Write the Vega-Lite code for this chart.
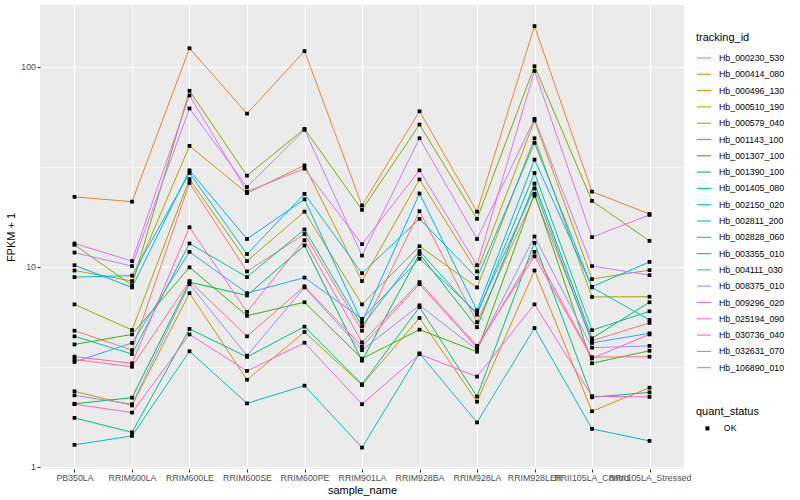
{
"$schema": "https://vega.github.io/schema/vega-lite/v6.json",
"width": 644, "height": 464,
"autosize": {"type": "none"},
"padding": {"left": 40, "top": 5, "right": 116, "bottom": 31},
"background": "white",
"config": {
  "font": "Liberation Sans",
  "view": {"fill": "#EBEBEB", "stroke": null},
  "axis": {"domain": false, "grid": true, "gridColor": "#FFFFFF", "gridWidth": 1.1, "tickColor": "#333333", "tickSize": 3, "tickWidth": 1.1, "labelColor": "#4D4D4D", "labelFontSize": 8.8, "labelPadding": 1.5, "titleFontSize": 11, "titleFontWeight": "normal", "titleColor": "#000000"}
},
"data": {"values": [
{"tracking_id":"Hb_000230_530","sample_name":"PB350LA","fpkm1":4.8,"quant_status":"OK"},
{"tracking_id":"Hb_000230_530","sample_name":"RRIM600LA","fpkm1":3.84,"quant_status":"OK"},
{"tracking_id":"Hb_000230_530","sample_name":"RRIM600LE","fpkm1":26.3,"quant_status":"OK"},
{"tracking_id":"Hb_000230_530","sample_name":"RRIM600SE","fpkm1":9.5,"quant_status":"OK"},
{"tracking_id":"Hb_000230_530","sample_name":"RRIM600PE","fpkm1":14.6,"quant_status":"OK"},
{"tracking_id":"Hb_000230_530","sample_name":"RRIM901LA","fpkm1":4.8,"quant_status":"OK"},
{"tracking_id":"Hb_000230_530","sample_name":"RRIM928BA","fpkm1":19,"quant_status":"OK"},
{"tracking_id":"Hb_000230_530","sample_name":"RRIM928LA","fpkm1":5.3,"quant_status":"OK"},
{"tracking_id":"Hb_000230_530","sample_name":"RRIM928LER","fpkm1":22.7,"quant_status":"OK"},
{"tracking_id":"Hb_000230_530","sample_name":"RRII105LA_Control","fpkm1":4.28,"quant_status":"OK"},
{"tracking_id":"Hb_000230_530","sample_name":"RRII105LA_Stressed","fpkm1":5.25,"quant_status":"OK"},
{"tracking_id":"Hb_000414_080","sample_name":"PB350LA","fpkm1":22.4,"quant_status":"OK"},
{"tracking_id":"Hb_000414_080","sample_name":"RRIM600LA","fpkm1":21.2,"quant_status":"OK"},
{"tracking_id":"Hb_000414_080","sample_name":"RRIM600LE","fpkm1":124,"quant_status":"OK"},
{"tracking_id":"Hb_000414_080","sample_name":"RRIM600SE","fpkm1":58.4,"quant_status":"OK"},
{"tracking_id":"Hb_000414_080","sample_name":"RRIM600PE","fpkm1":120,"quant_status":"OK"},
{"tracking_id":"Hb_000414_080","sample_name":"RRIM901LA","fpkm1":20.3,"quant_status":"OK"},
{"tracking_id":"Hb_000414_080","sample_name":"RRIM928BA","fpkm1":60,"quant_status":"OK"},
{"tracking_id":"Hb_000414_080","sample_name":"RRIM928LA","fpkm1":18.9,"quant_status":"OK"},
{"tracking_id":"Hb_000414_080","sample_name":"RRIM928LER","fpkm1":160,"quant_status":"OK"},
{"tracking_id":"Hb_000414_080","sample_name":"RRII105LA_Control","fpkm1":23.8,"quant_status":"OK"},
{"tracking_id":"Hb_000414_080","sample_name":"RRII105LA_Stressed","fpkm1":18.4,"quant_status":"OK"},
{"tracking_id":"Hb_000496_130","sample_name":"PB350LA","fpkm1":2.39,"quant_status":"OK"},
{"tracking_id":"Hb_000496_130","sample_name":"RRIM600LA","fpkm1":2.03,"quant_status":"OK"},
{"tracking_id":"Hb_000496_130","sample_name":"RRIM600LE","fpkm1":7.4,"quant_status":"OK"},
{"tracking_id":"Hb_000496_130","sample_name":"RRIM600SE","fpkm1":2.73,"quant_status":"OK"},
{"tracking_id":"Hb_000496_130","sample_name":"RRIM600PE","fpkm1":4.73,"quant_status":"OK"},
{"tracking_id":"Hb_000496_130","sample_name":"RRIM901LA","fpkm1":2.57,"quant_status":"OK"},
{"tracking_id":"Hb_000496_130","sample_name":"RRIM928BA","fpkm1":5.56,"quant_status":"OK"},
{"tracking_id":"Hb_000496_130","sample_name":"RRIM928LA","fpkm1":2.12,"quant_status":"OK"},
{"tracking_id":"Hb_000496_130","sample_name":"RRIM928LER","fpkm1":9.6,"quant_status":"OK"},
{"tracking_id":"Hb_000496_130","sample_name":"RRII105LA_Control","fpkm1":1.9,"quant_status":"OK"},
{"tracking_id":"Hb_000496_130","sample_name":"RRII105LA_Stressed","fpkm1":2.49,"quant_status":"OK"},
{"tracking_id":"Hb_000510_190","sample_name":"PB350LA","fpkm1":9.6,"quant_status":"OK"},
{"tracking_id":"Hb_000510_190","sample_name":"RRIM600LA","fpkm1":8.5,"quant_status":"OK"},
{"tracking_id":"Hb_000510_190","sample_name":"RRIM600LE","fpkm1":40.3,"quant_status":"OK"},
{"tracking_id":"Hb_000510_190","sample_name":"RRIM600SE","fpkm1":23.4,"quant_status":"OK"},
{"tracking_id":"Hb_000510_190","sample_name":"RRIM600PE","fpkm1":32.2,"quant_status":"OK"},
{"tracking_id":"Hb_000510_190","sample_name":"RRIM901LA","fpkm1":8.5,"quant_status":"OK"},
{"tracking_id":"Hb_000510_190","sample_name":"RRIM928BA","fpkm1":27.4,"quant_status":"OK"},
{"tracking_id":"Hb_000510_190","sample_name":"RRIM928LA","fpkm1":9.5,"quant_status":"OK"},
{"tracking_id":"Hb_000510_190","sample_name":"RRIM928LER","fpkm1":54,"quant_status":"OK"},
{"tracking_id":"Hb_000510_190","sample_name":"RRII105LA_Control","fpkm1":8.7,"quant_status":"OK"},
{"tracking_id":"Hb_000510_190","sample_name":"RRII105LA_Stressed","fpkm1":9.64,"quant_status":"OK"},
{"tracking_id":"Hb_000579_040","sample_name":"PB350LA","fpkm1":6.5,"quant_status":"OK"},
{"tracking_id":"Hb_000579_040","sample_name":"RRIM600LA","fpkm1":4.84,"quant_status":"OK"},
{"tracking_id":"Hb_000579_040","sample_name":"RRIM600LE","fpkm1":27.5,"quant_status":"OK"},
{"tracking_id":"Hb_000579_040","sample_name":"RRIM600SE","fpkm1":10.7,"quant_status":"OK"},
{"tracking_id":"Hb_000579_040","sample_name":"RRIM600PE","fpkm1":18.9,"quant_status":"OK"},
{"tracking_id":"Hb_000579_040","sample_name":"RRIM901LA","fpkm1":6.5,"quant_status":"OK"},
{"tracking_id":"Hb_000579_040","sample_name":"RRIM928BA","fpkm1":12.7,"quant_status":"OK"},
{"tracking_id":"Hb_000579_040","sample_name":"RRIM928LA","fpkm1":7.9,"quant_status":"OK"},
{"tracking_id":"Hb_000579_040","sample_name":"RRIM928LER","fpkm1":44,"quant_status":"OK"},
{"tracking_id":"Hb_000579_040","sample_name":"RRII105LA_Control","fpkm1":7.08,"quant_status":"OK"},
{"tracking_id":"Hb_000579_040","sample_name":"RRII105LA_Stressed","fpkm1":7.1,"quant_status":"OK"},
{"tracking_id":"Hb_001143_100","sample_name":"PB350LA","fpkm1":12.9,"quant_status":"OK"},
{"tracking_id":"Hb_001143_100","sample_name":"RRIM600LA","fpkm1":8.1,"quant_status":"OK"},
{"tracking_id":"Hb_001143_100","sample_name":"RRIM600LE","fpkm1":76,"quant_status":"OK"},
{"tracking_id":"Hb_001143_100","sample_name":"RRIM600SE","fpkm1":28.6,"quant_status":"OK"},
{"tracking_id":"Hb_001143_100","sample_name":"RRIM600PE","fpkm1":49,"quant_status":"OK"},
{"tracking_id":"Hb_001143_100","sample_name":"RRIM901LA","fpkm1":19.3,"quant_status":"OK"},
{"tracking_id":"Hb_001143_100","sample_name":"RRIM928BA","fpkm1":51.5,"quant_status":"OK"},
{"tracking_id":"Hb_001143_100","sample_name":"RRIM928LA","fpkm1":17.4,"quant_status":"OK"},
{"tracking_id":"Hb_001143_100","sample_name":"RRIM928LER","fpkm1":100.8,"quant_status":"OK"},
{"tracking_id":"Hb_001143_100","sample_name":"RRII105LA_Control","fpkm1":21.4,"quant_status":"OK"},
{"tracking_id":"Hb_001143_100","sample_name":"RRII105LA_Stressed","fpkm1":13.5,"quant_status":"OK"},
{"tracking_id":"Hb_001307_100","sample_name":"PB350LA","fpkm1":4.1,"quant_status":"OK"},
{"tracking_id":"Hb_001307_100","sample_name":"RRIM600LA","fpkm1":4.6,"quant_status":"OK"},
{"tracking_id":"Hb_001307_100","sample_name":"RRIM600LE","fpkm1":9.96,"quant_status":"OK"},
{"tracking_id":"Hb_001307_100","sample_name":"RRIM600SE","fpkm1":5.7,"quant_status":"OK"},
{"tracking_id":"Hb_001307_100","sample_name":"RRIM600PE","fpkm1":6.66,"quant_status":"OK"},
{"tracking_id":"Hb_001307_100","sample_name":"RRIM901LA","fpkm1":3.48,"quant_status":"OK"},
{"tracking_id":"Hb_001307_100","sample_name":"RRIM928BA","fpkm1":4.86,"quant_status":"OK"},
{"tracking_id":"Hb_001307_100","sample_name":"RRIM928LA","fpkm1":3.77,"quant_status":"OK"},
{"tracking_id":"Hb_001307_100","sample_name":"RRIM928LER","fpkm1":23.2,"quant_status":"OK"},
{"tracking_id":"Hb_001307_100","sample_name":"RRII105LA_Control","fpkm1":3.3,"quant_status":"OK"},
{"tracking_id":"Hb_001307_100","sample_name":"RRII105LA_Stressed","fpkm1":3.81,"quant_status":"OK"},
{"tracking_id":"Hb_001390_100","sample_name":"PB350LA","fpkm1":2.07,"quant_status":"OK"},
{"tracking_id":"Hb_001390_100","sample_name":"RRIM600LA","fpkm1":2.22,"quant_status":"OK"},
{"tracking_id":"Hb_001390_100","sample_name":"RRIM600LE","fpkm1":8.4,"quant_status":"OK"},
{"tracking_id":"Hb_001390_100","sample_name":"RRIM600SE","fpkm1":7.2,"quant_status":"OK"},
{"tracking_id":"Hb_001390_100","sample_name":"RRIM600PE","fpkm1":12.8,"quant_status":"OK"},
{"tracking_id":"Hb_001390_100","sample_name":"RRIM901LA","fpkm1":3.4,"quant_status":"OK"},
{"tracking_id":"Hb_001390_100","sample_name":"RRIM928BA","fpkm1":11.6,"quant_status":"OK"},
{"tracking_id":"Hb_001390_100","sample_name":"RRIM928LA","fpkm1":5.0,"quant_status":"OK"},
{"tracking_id":"Hb_001390_100","sample_name":"RRIM928LER","fpkm1":26.1,"quant_status":"OK"},
{"tracking_id":"Hb_001390_100","sample_name":"RRII105LA_Control","fpkm1":4.4,"quant_status":"OK"},
{"tracking_id":"Hb_001390_100","sample_name":"RRII105LA_Stressed","fpkm1":6.66,"quant_status":"OK"},
{"tracking_id":"Hb_001405_080","sample_name":"PB350LA","fpkm1":1.76,"quant_status":"OK"},
{"tracking_id":"Hb_001405_080","sample_name":"RRIM600LA","fpkm1":1.49,"quant_status":"OK"},
{"tracking_id":"Hb_001405_080","sample_name":"RRIM600LE","fpkm1":4.9,"quant_status":"OK"},
{"tracking_id":"Hb_001405_080","sample_name":"RRIM600SE","fpkm1":3.55,"quant_status":"OK"},
{"tracking_id":"Hb_001405_080","sample_name":"RRIM600PE","fpkm1":5.03,"quant_status":"OK"},
{"tracking_id":"Hb_001405_080","sample_name":"RRIM901LA","fpkm1":2.59,"quant_status":"OK"},
{"tracking_id":"Hb_001405_080","sample_name":"RRIM928BA","fpkm1":6.3,"quant_status":"OK"},
{"tracking_id":"Hb_001405_080","sample_name":"RRIM928LA","fpkm1":2.25,"quant_status":"OK"},
{"tracking_id":"Hb_001405_080","sample_name":"RRIM928LER","fpkm1":13.2,"quant_status":"OK"},
{"tracking_id":"Hb_001405_080","sample_name":"RRII105LA_Control","fpkm1":2.23,"quant_status":"OK"},
{"tracking_id":"Hb_001405_080","sample_name":"RRII105LA_Stressed","fpkm1":2.36,"quant_status":"OK"},
{"tracking_id":"Hb_002150_020","sample_name":"PB350LA","fpkm1":4.5,"quant_status":"OK"},
{"tracking_id":"Hb_002150_020","sample_name":"RRIM600LA","fpkm1":3.67,"quant_status":"OK"},
{"tracking_id":"Hb_002150_020","sample_name":"RRIM600LE","fpkm1":13.1,"quant_status":"OK"},
{"tracking_id":"Hb_002150_020","sample_name":"RRIM600SE","fpkm1":8.9,"quant_status":"OK"},
{"tracking_id":"Hb_002150_020","sample_name":"RRIM600PE","fpkm1":15.4,"quant_status":"OK"},
{"tracking_id":"Hb_002150_020","sample_name":"RRIM901LA","fpkm1":5.06,"quant_status":"OK"},
{"tracking_id":"Hb_002150_020","sample_name":"RRIM928BA","fpkm1":12.0,"quant_status":"OK"},
{"tracking_id":"Hb_002150_020","sample_name":"RRIM928LA","fpkm1":5.77,"quant_status":"OK"},
{"tracking_id":"Hb_002150_020","sample_name":"RRIM928LER","fpkm1":29.5,"quant_status":"OK"},
{"tracking_id":"Hb_002150_020","sample_name":"RRII105LA_Control","fpkm1":4.83,"quant_status":"OK"},
{"tracking_id":"Hb_002150_020","sample_name":"RRII105LA_Stressed","fpkm1":6.0,"quant_status":"OK"},
{"tracking_id":"Hb_002811_200","sample_name":"PB350LA","fpkm1":1.29,"quant_status":"OK"},
{"tracking_id":"Hb_002811_200","sample_name":"RRIM600LA","fpkm1":1.43,"quant_status":"OK"},
{"tracking_id":"Hb_002811_200","sample_name":"RRIM600LE","fpkm1":3.79,"quant_status":"OK"},
{"tracking_id":"Hb_002811_200","sample_name":"RRIM600SE","fpkm1":2.08,"quant_status":"OK"},
{"tracking_id":"Hb_002811_200","sample_name":"RRIM600PE","fpkm1":2.55,"quant_status":"OK"},
{"tracking_id":"Hb_002811_200","sample_name":"RRIM901LA","fpkm1":1.25,"quant_status":"OK"},
{"tracking_id":"Hb_002811_200","sample_name":"RRIM928BA","fpkm1":3.7,"quant_status":"OK"},
{"tracking_id":"Hb_002811_200","sample_name":"RRIM928LA","fpkm1":1.67,"quant_status":"OK"},
{"tracking_id":"Hb_002811_200","sample_name":"RRIM928LER","fpkm1":4.95,"quant_status":"OK"},
{"tracking_id":"Hb_002811_200","sample_name":"RRII105LA_Control","fpkm1":1.55,"quant_status":"OK"},
{"tracking_id":"Hb_002811_200","sample_name":"RRII105LA_Stressed","fpkm1":1.35,"quant_status":"OK"},
{"tracking_id":"Hb_002828_060","sample_name":"PB350LA","fpkm1":8.9,"quant_status":"OK"},
{"tracking_id":"Hb_002828_060","sample_name":"RRIM600LA","fpkm1":9.05,"quant_status":"OK"},
{"tracking_id":"Hb_002828_060","sample_name":"RRIM600LE","fpkm1":29.5,"quant_status":"OK"},
{"tracking_id":"Hb_002828_060","sample_name":"RRIM600SE","fpkm1":11.6,"quant_status":"OK"},
{"tracking_id":"Hb_002828_060","sample_name":"RRIM600PE","fpkm1":23.2,"quant_status":"OK"},
{"tracking_id":"Hb_002828_060","sample_name":"RRIM901LA","fpkm1":9.3,"quant_status":"OK"},
{"tracking_id":"Hb_002828_060","sample_name":"RRIM928BA","fpkm1":17.4,"quant_status":"OK"},
{"tracking_id":"Hb_002828_060","sample_name":"RRIM928LA","fpkm1":8.8,"quant_status":"OK"},
{"tracking_id":"Hb_002828_060","sample_name":"RRIM928LER","fpkm1":41.7,"quant_status":"OK"},
{"tracking_id":"Hb_002828_060","sample_name":"RRII105LA_Control","fpkm1":7.9,"quant_status":"OK"},
{"tracking_id":"Hb_002828_060","sample_name":"RRII105LA_Stressed","fpkm1":5.44,"quant_status":"OK"},
{"tracking_id":"Hb_003355_010","sample_name":"PB350LA","fpkm1":10.2,"quant_status":"OK"},
{"tracking_id":"Hb_003355_010","sample_name":"RRIM600LA","fpkm1":7.9,"quant_status":"OK"},
{"tracking_id":"Hb_003355_010","sample_name":"RRIM600LE","fpkm1":30.4,"quant_status":"OK"},
{"tracking_id":"Hb_003355_010","sample_name":"RRIM600SE","fpkm1":13.8,"quant_status":"OK"},
{"tracking_id":"Hb_003355_010","sample_name":"RRIM600PE","fpkm1":21.8,"quant_status":"OK"},
{"tracking_id":"Hb_003355_010","sample_name":"RRIM901LA","fpkm1":5.3,"quant_status":"OK"},
{"tracking_id":"Hb_003355_010","sample_name":"RRIM928BA","fpkm1":23.3,"quant_status":"OK"},
{"tracking_id":"Hb_003355_010","sample_name":"RRIM928LA","fpkm1":6.06,"quant_status":"OK"},
{"tracking_id":"Hb_003355_010","sample_name":"RRIM928LER","fpkm1":34.4,"quant_status":"OK"},
{"tracking_id":"Hb_003355_010","sample_name":"RRII105LA_Control","fpkm1":7.96,"quant_status":"OK"},
{"tracking_id":"Hb_003355_010","sample_name":"RRII105LA_Stressed","fpkm1":10.6,"quant_status":"OK"},
{"tracking_id":"Hb_004111_030","sample_name":"PB350LA","fpkm1":3.35,"quant_status":"OK"},
{"tracking_id":"Hb_004111_030","sample_name":"RRIM600LA","fpkm1":4.17,"quant_status":"OK"},
{"tracking_id":"Hb_004111_030","sample_name":"RRIM600LE","fpkm1":11.9,"quant_status":"OK"},
{"tracking_id":"Hb_004111_030","sample_name":"RRIM600SE","fpkm1":7.4,"quant_status":"OK"},
{"tracking_id":"Hb_004111_030","sample_name":"RRIM600PE","fpkm1":8.85,"quant_status":"OK"},
{"tracking_id":"Hb_004111_030","sample_name":"RRIM901LA","fpkm1":5.5,"quant_status":"OK"},
{"tracking_id":"Hb_004111_030","sample_name":"RRIM928BA","fpkm1":11.0,"quant_status":"OK"},
{"tracking_id":"Hb_004111_030","sample_name":"RRIM928LA","fpkm1":5.9,"quant_status":"OK"},
{"tracking_id":"Hb_004111_030","sample_name":"RRIM928LER","fpkm1":24.7,"quant_status":"OK"},
{"tracking_id":"Hb_004111_030","sample_name":"RRII105LA_Control","fpkm1":4.17,"quant_status":"OK"},
{"tracking_id":"Hb_004111_030","sample_name":"RRII105LA_Stressed","fpkm1":4.66,"quant_status":"OK"},
{"tracking_id":"Hb_008375_010","sample_name":"PB350LA","fpkm1":2.28,"quant_status":"OK"},
{"tracking_id":"Hb_008375_010","sample_name":"RRIM600LA","fpkm1":2.06,"quant_status":"OK"},
{"tracking_id":"Hb_008375_010","sample_name":"RRIM600LE","fpkm1":8.2,"quant_status":"OK"},
{"tracking_id":"Hb_008375_010","sample_name":"RRIM600SE","fpkm1":3.6,"quant_status":"OK"},
{"tracking_id":"Hb_008375_010","sample_name":"RRIM600PE","fpkm1":7.9,"quant_status":"OK"},
{"tracking_id":"Hb_008375_010","sample_name":"RRIM901LA","fpkm1":3.84,"quant_status":"OK"},
{"tracking_id":"Hb_008375_010","sample_name":"RRIM928BA","fpkm1":6.43,"quant_status":"OK"},
{"tracking_id":"Hb_008375_010","sample_name":"RRIM928LA","fpkm1":3.86,"quant_status":"OK"},
{"tracking_id":"Hb_008375_010","sample_name":"RRIM928LER","fpkm1":14.2,"quant_status":"OK"},
{"tracking_id":"Hb_008375_010","sample_name":"RRII105LA_Control","fpkm1":3.95,"quant_status":"OK"},
{"tracking_id":"Hb_008375_010","sample_name":"RRII105LA_Stressed","fpkm1":4.03,"quant_status":"OK"},
{"tracking_id":"Hb_009296_020","sample_name":"PB350LA","fpkm1":11.8,"quant_status":"OK"},
{"tracking_id":"Hb_009296_020","sample_name":"RRIM600LA","fpkm1":10.1,"quant_status":"OK"},
{"tracking_id":"Hb_009296_020","sample_name":"RRIM600LE","fpkm1":62,"quant_status":"OK"},
{"tracking_id":"Hb_009296_020","sample_name":"RRIM600SE","fpkm1":25.1,"quant_status":"OK"},
{"tracking_id":"Hb_009296_020","sample_name":"RRIM600PE","fpkm1":48.5,"quant_status":"OK"},
{"tracking_id":"Hb_009296_020","sample_name":"RRIM901LA","fpkm1":11.4,"quant_status":"OK"},
{"tracking_id":"Hb_009296_020","sample_name":"RRIM928BA","fpkm1":44,"quant_status":"OK"},
{"tracking_id":"Hb_009296_020","sample_name":"RRIM928LA","fpkm1":13.8,"quant_status":"OK"},
{"tracking_id":"Hb_009296_020","sample_name":"RRIM928LER","fpkm1":55,"quant_status":"OK"},
{"tracking_id":"Hb_009296_020","sample_name":"RRII105LA_Control","fpkm1":10.1,"quant_status":"OK"},
{"tracking_id":"Hb_009296_020","sample_name":"RRII105LA_Stressed","fpkm1":9.1,"quant_status":"OK"},
{"tracking_id":"Hb_025194_090","sample_name":"PB350LA","fpkm1":13.1,"quant_status":"OK"},
{"tracking_id":"Hb_025194_090","sample_name":"RRIM600LA","fpkm1":10.7,"quant_status":"OK"},
{"tracking_id":"Hb_025194_090","sample_name":"RRIM600LE","fpkm1":72,"quant_status":"OK"},
{"tracking_id":"Hb_025194_090","sample_name":"RRIM600SE","fpkm1":23.8,"quant_status":"OK"},
{"tracking_id":"Hb_025194_090","sample_name":"RRIM600PE","fpkm1":31,"quant_status":"OK"},
{"tracking_id":"Hb_025194_090","sample_name":"RRIM901LA","fpkm1":13.0,"quant_status":"OK"},
{"tracking_id":"Hb_025194_090","sample_name":"RRIM928BA","fpkm1":30.4,"quant_status":"OK"},
{"tracking_id":"Hb_025194_090","sample_name":"RRIM928LA","fpkm1":10.2,"quant_status":"OK"},
{"tracking_id":"Hb_025194_090","sample_name":"RRIM928LER","fpkm1":95.5,"quant_status":"OK"},
{"tracking_id":"Hb_025194_090","sample_name":"RRII105LA_Control","fpkm1":14.1,"quant_status":"OK"},
{"tracking_id":"Hb_025194_090","sample_name":"RRII105LA_Stressed","fpkm1":18.2,"quant_status":"OK"},
{"tracking_id":"Hb_030736_040","sample_name":"PB350LA","fpkm1":2.06,"quant_status":"OK"},
{"tracking_id":"Hb_030736_040","sample_name":"RRIM600LA","fpkm1":1.87,"quant_status":"OK"},
{"tracking_id":"Hb_030736_040","sample_name":"RRIM600LE","fpkm1":4.6,"quant_status":"OK"},
{"tracking_id":"Hb_030736_040","sample_name":"RRIM600SE","fpkm1":3.02,"quant_status":"OK"},
{"tracking_id":"Hb_030736_040","sample_name":"RRIM600PE","fpkm1":4.18,"quant_status":"OK"},
{"tracking_id":"Hb_030736_040","sample_name":"RRIM901LA","fpkm1":2.06,"quant_status":"OK"},
{"tracking_id":"Hb_030736_040","sample_name":"RRIM928BA","fpkm1":3.66,"quant_status":"OK"},
{"tracking_id":"Hb_030736_040","sample_name":"RRIM928LA","fpkm1":2.83,"quant_status":"OK"},
{"tracking_id":"Hb_030736_040","sample_name":"RRIM928LER","fpkm1":6.5,"quant_status":"OK"},
{"tracking_id":"Hb_030736_040","sample_name":"RRII105LA_Control","fpkm1":2.26,"quant_status":"OK"},
{"tracking_id":"Hb_030736_040","sample_name":"RRII105LA_Stressed","fpkm1":2.24,"quant_status":"OK"},
{"tracking_id":"Hb_032631_070","sample_name":"PB350LA","fpkm1":3.56,"quant_status":"OK"},
{"tracking_id":"Hb_032631_070","sample_name":"RRIM600LA","fpkm1":3.3,"quant_status":"OK"},
{"tracking_id":"Hb_032631_070","sample_name":"RRIM600LE","fpkm1":15.8,"quant_status":"OK"},
{"tracking_id":"Hb_032631_070","sample_name":"RRIM600SE","fpkm1":5.96,"quant_status":"OK"},
{"tracking_id":"Hb_032631_070","sample_name":"RRIM600PE","fpkm1":13.6,"quant_status":"OK"},
{"tracking_id":"Hb_032631_070","sample_name":"RRIM901LA","fpkm1":4.2,"quant_status":"OK"},
{"tracking_id":"Hb_032631_070","sample_name":"RRIM928BA","fpkm1":8.4,"quant_status":"OK"},
{"tracking_id":"Hb_032631_070","sample_name":"RRIM928LA","fpkm1":4.03,"quant_status":"OK"},
{"tracking_id":"Hb_032631_070","sample_name":"RRIM928LER","fpkm1":11.3,"quant_status":"OK"},
{"tracking_id":"Hb_032631_070","sample_name":"RRII105LA_Control","fpkm1":3.49,"quant_status":"OK"},
{"tracking_id":"Hb_032631_070","sample_name":"RRII105LA_Stressed","fpkm1":4.6,"quant_status":"OK"},
{"tracking_id":"Hb_106890_010","sample_name":"PB350LA","fpkm1":3.45,"quant_status":"OK"},
{"tracking_id":"Hb_106890_010","sample_name":"RRIM600LA","fpkm1":3.17,"quant_status":"OK"},
{"tracking_id":"Hb_106890_010","sample_name":"RRIM600LE","fpkm1":8.5,"quant_status":"OK"},
{"tracking_id":"Hb_106890_010","sample_name":"RRIM600SE","fpkm1":4.5,"quant_status":"OK"},
{"tracking_id":"Hb_106890_010","sample_name":"RRIM600PE","fpkm1":8.0,"quant_status":"OK"},
{"tracking_id":"Hb_106890_010","sample_name":"RRIM901LA","fpkm1":4.0,"quant_status":"OK"},
{"tracking_id":"Hb_106890_010","sample_name":"RRIM928BA","fpkm1":8.2,"quant_status":"OK"},
{"tracking_id":"Hb_106890_010","sample_name":"RRIM928LA","fpkm1":3.95,"quant_status":"OK"},
{"tracking_id":"Hb_106890_010","sample_name":"RRIM928LER","fpkm1":11.9,"quant_status":"OK"},
{"tracking_id":"Hb_106890_010","sample_name":"RRII105LA_Control","fpkm1":3.54,"quant_status":"OK"},
{"tracking_id":"Hb_106890_010","sample_name":"RRII105LA_Stressed","fpkm1":3.56,"quant_status":"OK"}
]},
"encoding": {
  "x": {"field": "sample_name", "type": "nominal",
        "sort": ["PB350LA","RRIM600LA","RRIM600LE","RRIM600SE","RRIM600PE","RRIM901LA","RRIM928BA","RRIM928LA","RRIM928LER","RRII105LA_Control","RRII105LA_Stressed"],
        "scale": {"type": "point", "padding": 0.6},
        "axis": {"labelAngle": 0, "title": "sample_name", "titlePadding": 2}},
  "y": {"field": "fpkm1", "type": "quantitative",
        "scale": {"type": "log", "domain": [0.977, 204], "nice": false},
        "axis": {"title": "FPKM + 1", "values": [1, 3.1623, 10, 31.623, 100], "titlePadding": 4,
                 "labelExpr": "(datum.value == 1 || datum.value == 10 || datum.value == 100) ? format(datum.value, 'd') : ''",
                 "gridWidth": {"condition": {"test": "datum.value == 1 || datum.value == 10 || datum.value == 100", "value": 1.1}, "value": 0.55},
                 "tickOpacity": {"condition": {"test": "datum.value == 1 || datum.value == 10 || datum.value == 100", "value": 1}, "value": 0}}}
},
"layer": [
  {"mark": {"type": "line", "strokeWidth": 1},
   "encoding": {
     "color": {"field": "tracking_id", "type": "nominal",
       "scale": {"domain": ["Hb_000230_530","Hb_000414_080","Hb_000496_130","Hb_000510_190","Hb_000579_040","Hb_001143_100","Hb_001307_100","Hb_001390_100","Hb_001405_080","Hb_002150_020","Hb_002811_200","Hb_002828_060","Hb_003355_010","Hb_004111_030","Hb_008375_010","Hb_009296_020","Hb_025194_090","Hb_030736_040","Hb_032631_070","Hb_106890_010"],
                 "range": ["#F8766D","#EA8331","#D89000","#C09B00","#A3A500","#7CAE00","#39B600","#00BB4E","#00BF7D","#00C1A3","#00BFC4","#00BAE0","#00B0F6","#35A2FF","#9590FF","#C77CFF","#E76BF3","#FA62DB","#FF62BC","#FF6C91"]},
       "legend": {"title": "tracking_id", "orient": "none", "legendX": 656, "legendY": 27,
                  "symbolType": "stroke", "symbolSize": 200, "symbolStrokeWidth": 1.1,
                  "labelFontSize": 8.8, "labelColor": "#000000", "labelOffset": 7,
                  "titleFontSize": 11, "titleFontWeight": "normal", "titleColor": "#000000", "titlePadding": 7,
                  "rowPadding": 3.3}}
   }},
  {"mark": {"type": "point", "filled": true, "size": 14, "color": "#000000", "opacity": 1},
   "encoding": {
     "shape": {"field": "quant_status", "type": "nominal",
       "scale": {"domain": ["OK"], "range": ["square"]},
       "legend": {"title": "quant_status", "orient": "none", "legendX": 656, "legendY": 401,
                  "symbolFillColor": "#000000", "symbolStrokeColor": "#000000", "symbolSize": 16, "symbolOffset": 7,
                  "labelFontSize": 8.8, "labelColor": "#000000", "labelOffset": 12,
                  "titleFontSize": 11, "titleFontWeight": "normal", "titleColor": "#000000", "titlePadding": 7}}
   }}
]
}
